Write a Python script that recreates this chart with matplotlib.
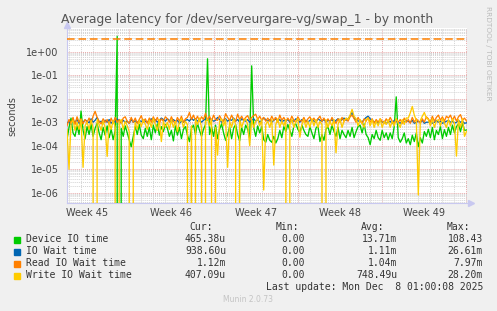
import numpy as np
import pandas as pd
import matplotlib
matplotlib.use("Agg")
import matplotlib.pyplot as plt
import matplotlib.dates as mdates
from matplotlib.ticker import LogLocator, FixedLocator, NullFormatter
from matplotlib.patches import Rectangle

# ---------------- data (values in microseconds, 4-hour steps) ----------------
start_time = "2025-11-04 20:00"
step = "4h"
end_time = "2025-12-08 01:00"

device_us = [
    180, 600, 1500, 350, 250, 700, 300, 3000, 450, 200,
    650, 300, 800, 250, 550, 900, 350, 180, 600, 280,
    700, 220, 500, 180, 450, 4500000, 0, 550, 250, 700,
    350, 180, 90, 250, 650, 300, 800, 280, 200, 550,
    250, 600, 180, 750, 350, 850, 280, 650, 400, 800,
    550, 250, 450, 160, 700, 280, 600, 200, 500, 650,
    280, 150, 550, 750, 300, 900, 450, 250, 500, 800,
    500000, 300, 650, 250, 750, 200, 500, 850, 350, 170,
    300, 650, 200, 550, 800, 300, 160, 600, 300, 750,
    500, 200, 250000, 600, 250, 700, 350, 650, 180, 140,
    300, 170, 140, 250, 130, 200, 450, 220, 650, 400,
    800, 450, 250, 700, 850, 500, 350, 750, 450, 300,
    250, 650, 350, 200, 550, 700, 150, 300, 170, 500,
    650, 300, 750, 400, 250, 600, 200, 450, 300, 220,
    450, 250, 600, 220, 400, 650, 750, 350, 850, 300,
    220, 110, 300, 200, 450, 220, 170, 450, 220, 350,
    180, 350, 200, 650, 12000, 220, 140, 200, 350, 130,
    200, 110, 280, 150, 350, 90, 220, 130, 400, 250,
    500, 220, 600, 180, 450, 300, 650, 200, 480, 250,
    600, 300, 750, 350, 650, 850, 400, 900, 450, 465,
]

io_wait_us = [
    900, 1100, 800, 1200, 1000, 1300, 900, 1100, 1000, 1250,
    1100, 950, 1400, 1000, 1200, 1600, 1000, 1100, 900, 1200,
    1000, 1300, 900, 1150, 1000, 1400, 1100, 950, 1200, 1000,
    1100, 900, 1300, 1000, 1150, 950, 1200, 1050, 1300, 1100,
    1000, 1200, 1400, 1100, 1300, 1000, 1200, 1500, 1300, 1100,
    1400, 1200, 1000, 1300, 1100, 1200, 900, 1100, 1000, 1200,
    1300, 1100, 1500, 1200, 1400, 1100, 1300, 1000, 1200, 1400,
    1200, 1500, 1300, 1100, 1200, 1600, 1300, 1000, 1200, 1400,
    1100, 1300, 1200, 1500, 1100, 1300, 1000, 1400, 1200, 1100,
    1300, 1000, 1200, 1400, 1100, 1300, 1000, 1200, 1500, 1300,
    1100, 1300, 1000, 1200, 1400, 1100, 1300, 1000, 1200, 1100,
    1300, 1000, 1200, 1100, 1400, 1200, 1000, 1300, 1100, 1200,
    1000, 1200, 1300, 1100, 1000, 1400, 1200, 1100, 1300, 1000,
    1200, 1100, 1300, 1000, 1200, 1400, 1100, 1300, 1500, 1200,
    1400, 1800, 2600, 1500, 1300, 1100, 1200, 1000, 1300, 1600,
    1800, 1400, 1200, 1000, 1100, 900, 1200, 1000, 1100, 900,
    1000, 1100, 900, 1200, 1100, 1000, 900, 1100, 1000, 1200,
    1100, 1000, 1200, 900, 1000, 1100, 1000, 1200, 900, 1000,
    1000, 1100, 900, 1000, 1200, 1000, 1100, 900, 1000, 1100,
    1200, 1000, 1100, 900, 1000, 1200, 1000, 1100, 900, 939,
]

read_wait_us = [
    700, 1300, 900, 1600, 800, 1700, 1000, 1400, 850, 1300,
    1000, 1500, 900, 1800, 2900, 1600, 1100, 850, 1400, 1000,
    1300, 800, 1500, 900, 1600, 1000, 1300, 900, 1500, 1700,
    1100, 900, 1600, 1000, 1500, 900, 1300, 1900, 1000, 1400,
    900, 1500, 1000, 1700, 1100, 1600, 900, 1400, 1100, 1700,
    1400, 1000, 1700, 1100, 900, 1600, 1100, 1800, 1000, 1400,
    1600, 2600, 1300, 2000, 1200, 1800, 1100, 1700, 1300, 2400,
    1200, 1800, 1100, 2000, 1300, 1200, 1900, 1300, 1100, 2300,
    1600, 1200, 2000, 1300, 1100, 2200, 1300, 1800, 1200, 1600,
    1900, 1200, 1600, 1900, 2200, 1300, 1800, 1200, 1600, 1100,
    1500, 1100, 1800, 1200, 1600, 1000, 2000, 1200, 1600, 1100,
    1500, 1100, 1800, 1200, 1000, 1700, 1200, 1100, 1600, 1000,
    1400, 1700, 1100, 1500, 1000, 1400, 1800, 1100, 1500, 1000,
    1400, 1000, 1600, 1100, 900, 1400, 1000, 1600, 1100, 1400,
    1100, 1700, 2000, 1400, 1000, 1600, 1100, 900, 1400, 1100,
    1600, 1000, 1400, 900, 1300, 1000, 1400, 1100, 900, 1400,
    1000, 1600, 1100, 900, 1400, 1000, 1300, 900, 1500, 1000,
    1300, 900, 1600, 1000, 1400, 1100, 900, 1400, 1000, 1700,
    1400, 1000, 1800, 1100, 1600, 2000, 1200, 1700, 1100, 1800,
    1500, 2000, 1200, 1800, 1100, 1700, 2100, 1200, 1500, 1120,
]

write_wait_us = [
    500, 10, 900, 1200, 450, 1000, 500, 1300, 12, 700,
    1000, 500, 1200, 600, 0, 1300, 800, 450, 1100, 600,
    35, 1000, 500, 1200, 600, 0, 1000, 1300, 500, 1100,
    700, 400, 0, 100, 1000, 500, 1200, 650, 1300, 800,
    500, 1200, 600, 1400, 800, 450, 1300, 150, 1100, 600,
    1000, 500, 1300, 600, 1100, 400, 1000, 1400, 600, 1100,
    800, 0, 700, 0, 1300, 800, 1500, 600, 0, 1100,
    1400, 700, 1300, 0, 600, 40, 1100, 1400, 700, 1300,
    12, 1100, 600, 1400, 800, 0, 1300, 600, 1100, 1400,
    800, 100, 1300, 600, 1100, 1400, 700, 1300, 1.3, 800,
    1100, 600, 1300, 15, 800, 1400, 600, 1100, 700, 1300,
    0, 800, 1300, 600, 1100, 1400, 230, 800, 1300, 600,
    1100, 600, 1400, 700, 1300, 600, 1100, 800, 0, 1300,
    600, 1100, 700, 1300, 50, 800, 1400, 600, 1100, 1500,
    1300, 2000, 3500, 1800, 1400, 700, 1300, 900, 600, 1300,
    1500, 700, 1300, 600, 1100, 700, 1400, 600, 1100, 800,
    1300, 600, 1100, 700, 1400, 900, 600, 1300, 800, 1500,
    1500, 2500, 4700, 2000, 1200, 0.8, 1200, 1800, 2600, 1500,
    1300, 700, 1400, 600, 1100, 1300, 700, 1400, 900, 600,
    1300, 700, 1400, 900, 36, 1300, 600, 1400, 250, 407,
]

hline_seconds = 3.4

series_names = ["Device IO time", "IO Wait time", "Read IO Wait time", "Write IO Wait time"]
series_colors = ["#00CC00", "#0066B3", "#FF8000", "#FFCC00"]
cur_vals = ["465.38u", "938.60u", "1.12m", "407.09u"]
min_vals = ["0.00", "0.00", "0.00", "0.00"]
avg_vals = ["13.71m", "1.11m", "1.04m", "748.49u"]
max_vals = ["108.43", "26.61m", "7.97m", "28.20m"]

week_labels = ["Week 45", "Week 46", "Week 47", "Week 48", "Week 49"]
week_centers = ["2025-11-06 12:00", "2025-11-13 12:00", "2025-11-20 12:00",
                "2025-11-27 12:00", "2025-12-04 12:00"]
ytick_labels = ["1e+00", "1e-01", "1e-02", "1e-03", "1e-04", "1e-05", "1e-06"]
ytick_values = [1e0, 1e-1, 1e-2, 1e-3, 1e-4, 1e-5, 1e-6]

# ---------------- figure ----------------
W, H = 497, 311
fig = plt.figure(figsize=(W / 100, H / 100), dpi=100, facecolor="#F0F0F0")

def fx(px):
    return px / W

def fy(py):
    return 1 - py / H

L, R, T, B = 67, 467, 28, 203
ax = fig.add_axes([fx(L), fy(B), fx(R - L), (B - T) / H])
ax.set_facecolor("white")

times = pd.date_range(start_time, periods=len(device_us), freq=step)
series = [device_us, io_wait_us, read_wait_us, write_wait_us]
ax.set_yscale("log", nonpositive="clip")
for vals, col in zip(series, series_colors):
    ax.plot(times, np.array(vals, dtype=float) * 1e-6, color=col, lw=0.95, zorder=3)

ax.axhline(hline_seconds, color="#FF8000", lw=1.1, dashes=(5, 2.5), zorder=3.5)

ax.set_xlim(pd.Timestamp(start_time), pd.Timestamp(end_time))
ax.set_ylim(3.65e-7, 10.2)

# grids
ax.xaxis.set_major_locator(mdates.WeekdayLocator(byweekday=mdates.MO))
ax.xaxis.set_minor_locator(mdates.DayLocator())
ax.xaxis.set_major_formatter(NullFormatter())
ax.xaxis.set_minor_formatter(NullFormatter())
ax.yaxis.set_major_locator(FixedLocator(ytick_values))
ax.set_yticklabels(ytick_labels)
ax.yaxis.set_minor_locator(LogLocator(base=10, subs=range(2, 10), numticks=50))
ax.yaxis.set_minor_formatter(NullFormatter())
ax.grid(which="minor", color="#D4D4D4", lw=0.7, ls=(0, (1, 1)), zorder=1)
ax.grid(which="major", color="#E6A8A8", lw=0.7, ls=(0, (1, 1)), zorder=1.5)
ax.tick_params(which="both", length=0)
ax.tick_params(axis="y", labelsize=7, labelcolor="#444444", pad=6)

for s in ["top", "right"]:
    ax.spines[s].set_visible(False)
for s in ["left", "bottom"]:
    ax.spines[s].set_color("#C8C8F0")
    ax.spines[s].set_linewidth(0.8)
ax.plot([1.0 + 4 / (R - L)], [0], marker=">", color="#C8C8F0", ms=4,
        transform=ax.transAxes, clip_on=False)
ax.plot([0], [1.0 + 3 / (B - T)], marker="^", color="#C8C8F0", ms=4,
        transform=ax.transAxes, clip_on=False)

for lab, c in zip(week_labels, week_centers):
    ax.text(mdates.date2num(pd.Timestamp(c)), fy(213), lab,
            transform=matplotlib.transforms.blended_transform_factory(ax.transData, fig.transFigure),
            ha="center", va="center", fontsize=7, color="#444444")

# texts
fig.text(fx(247.5), fy(19), "Average latency for /dev/serveurgare-vg/swap_1 - by month",
         ha="center", va="center", fontsize=8.95, color="#555555")
fig.text(fx(12), fy(116), "seconds", rotation=90, ha="center", va="center",
         fontsize=7, color="#444444")
fig.text(fx(488), fy(53), "RRDTOOL / TOBI OETIKER", rotation=270, ha="center",
         va="center", fontsize=5.3, color="#BBBBBB")

mono = "DejaVu Sans Mono"
tc = "#333333"
fig.text(fx(213), fy(227), "Cur:", ha="right", va="center", fontsize=7, family=mono, color=tc)
fig.text(fx(299), fy(227), "Min:", ha="right", va="center", fontsize=7, family=mono, color=tc)
fig.text(fx(384), fy(227), "Avg:", ha="right", va="center", fontsize=7, family=mono, color=tc)
fig.text(fx(470), fy(227), "Max:", ha="right", va="center", fontsize=7, family=mono, color=tc)

row_y = [239.5, 251.5, 263.5, 275.5]
for k in range(4):
    y = row_y[k]
    fig.patches.append(Rectangle((fx(14), fy(y + 3)), 6 / W, 6 / H,
                                 transform=fig.transFigure, color=series_colors[k]))
    fig.text(fx(26), fy(y), series_names[k], ha="left", va="center", fontsize=7, family=mono, color=tc)
    fig.text(fx(226), fy(y), cur_vals[k], ha="right", va="center", fontsize=7, family=mono, color=tc)
    fig.text(fx(305), fy(y), min_vals[k], ha="right", va="center", fontsize=7, family=mono, color=tc)
    fig.text(fx(397), fy(y), avg_vals[k], ha="right", va="center", fontsize=7, family=mono, color=tc)
    fig.text(fx(483), fy(y), max_vals[k], ha="right", va="center", fontsize=7, family=mono, color=tc)

fig.text(fx(483), fy(287.5), "Last update: Mon Dec  8 01:00:08 2025", ha="right", va="center",
         fontsize=7, family=mono, color=tc)
fig.text(fx(248), fy(300), "Munin 2.0.73", ha="center", va="center", fontsize=5.5, color="#C4C4C4")

fig.savefig("out.png", dpi=100, facecolor=fig.get_facecolor())
